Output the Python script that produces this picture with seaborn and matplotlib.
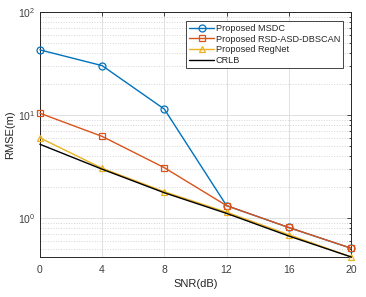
import numpy as np
import pandas as pd
import matplotlib
matplotlib.use("Agg")
import matplotlib.pyplot as plt
import seaborn as sns
from matplotlib.ticker import LogLocator, NullFormatter

# Values
snr = [0, 4, 8, 12, 16, 20]
msdc = [42.8, 30.1, 11.4, 1.32, 0.81, 0.51]
rsd_asd_dbscan = [10.4, 6.2, 3.08, 1.32, 0.81, 0.51]
regnet = [6.0, 3.04, 1.80, 1.14, 0.69, 0.42]
crlb = [5.2, 2.98, 1.76, 1.11, 0.67, 0.42]

series = ["Proposed MSDC", "Proposed RSD-ASD-DBSCAN", "Proposed RegNet", "CRLB"]
values = [msdc, rsd_asd_dbscan, regnet, crlb]
colors = ["#0072BD", "#D95319", "#EDB120", "#000000"]
markers = ["o", "s", "^", None]
msizes = [5, 4.2, 5, 0]

df = pd.DataFrame({
    "SNR": np.tile(snr, len(series)),
    "RMSE": np.concatenate(values),
    "method": np.repeat(series, len(snr)),
})

sns.set_style("white")
plt.rcParams["font.family"] = ["Liberation Sans", "DejaVu Sans"]
plt.rcParams["mathtext.fontset"] = "custom"
plt.rcParams["mathtext.rm"] = "Liberation Sans"

fig = plt.figure(figsize=(3.66, 2.97), dpi=100)
ax = fig.add_axes([0.109, 0.135, 0.85, 0.825])

for name, c, m, ms in zip(series, colors, markers, msizes):
    sub = df[df["method"] == name]
    sns.lineplot(data=sub, x="SNR", y="RMSE", ax=ax, color=c, label=name,
                 marker=m, markersize=ms, markerfacecolor="none",
                 markeredgecolor=c, markeredgewidth=0.9, linewidth=1.0,
                 clip_on=False, zorder=3)

ax.set_yscale("log")
ax.set_xlim(0, 20)
ax.set_ylim(0.42, 100)
ax.set_xticks(snr)
ax.yaxis.set_major_locator(LogLocator(base=10))
ax.yaxis.set_minor_locator(LogLocator(base=10, subs=np.arange(2, 10)))
ax.yaxis.set_minor_formatter(NullFormatter())

ax.grid(True, which="major", color="#e0e0e0", linewidth=0.7)
ax.grid(True, which="minor", axis="y", color="#d4d4d4", linestyle=":", linewidth=0.7)
ax.set_axisbelow(True)

for s in ax.spines.values():
    s.set_color("#262626")
    s.set_linewidth(0.7)
ax.tick_params(which="both", direction="in", top=True, right=True,
               color="#262626", labelcolor="#404040", labelsize=7.5, width=0.6)
ax.tick_params(which="major", length=3)
ax.tick_params(which="minor", length=1.5)
ax.tick_params(axis="x", pad=6)

ax.set_xlabel("SNR(dB)", fontsize=8, color="#262626", labelpad=3)
ax.set_ylabel("RMSE(m)", fontsize=8, color="#262626", labelpad=2)

leg = ax.legend(loc="upper right", bbox_to_anchor=(0.98, 0.97), fontsize=6.6,
                frameon=True, fancybox=False, framealpha=1, edgecolor="#262626",
                handlelength=2.7, handletextpad=0.2, borderpad=0.3,
                labelspacing=0.2, borderaxespad=0.2)
leg.get_frame().set_linewidth(0.6)
leg.set_zorder(5)

fig.savefig("out.png", dpi=100)
